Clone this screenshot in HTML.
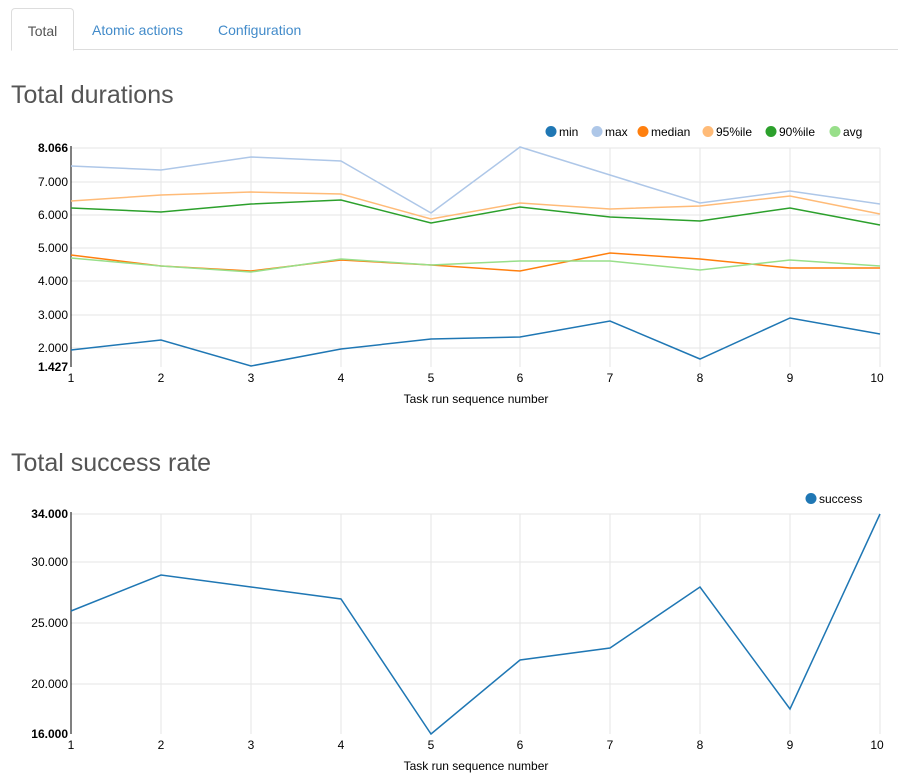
<!DOCTYPE html>
<html><head><style>
body{margin:0;background:#fff;font-family:"Liberation Sans",sans-serif;width:900px;height:780px;overflow:hidden;position:relative}
.tabs{position:absolute;left:11px;top:8px;right:2px;height:41px;border-bottom:1px solid #ddd}
.tab{position:absolute;top:0;height:41px;line-height:44px;font-size:14px;color:#428bca}
.tab.act{left:0;width:61px;border:1px solid #ddd;border-bottom:1px solid #fff;border-radius:4px 4px 0 0;color:#555;text-align:center;background:#fff}
h2{position:absolute;margin:0;font-weight:normal;font-size:25px;color:#555;left:11px}
svg{position:absolute;left:0;top:0}
svg text{font-family:"Liberation Sans",sans-serif;font-size:12px}
</style></head><body>
<div class="tabs">
<div class="tab act">Total</div>
<div class="tab" style="left:81px">Atomic actions</div>
<div class="tab" style="left:207px">Configuration</div>
</div>
<h2 style="top:81px">Total durations</h2>
<h2 style="top:449px">Total success rate</h2>
<svg width="900" height="780">
<g stroke="#e5e5e5" stroke-width="1">
<line x1="71" y1="148" x2="880" y2="148"/><line x1="71" y1="182" x2="880" y2="182"/><line x1="71" y1="215" x2="880" y2="215"/><line x1="71" y1="248" x2="880" y2="248"/><line x1="71" y1="281" x2="880" y2="281"/><line x1="71" y1="315" x2="880" y2="315"/><line x1="71" y1="348" x2="880" y2="348"/>
<line x1="161" y1="148" x2="161" y2="367"/><line x1="251" y1="148" x2="251" y2="367"/><line x1="341" y1="148" x2="341" y2="367"/><line x1="431" y1="148" x2="431" y2="367"/><line x1="520" y1="148" x2="520" y2="367"/><line x1="610" y1="148" x2="610" y2="367"/><line x1="700" y1="148" x2="700" y2="367"/><line x1="790" y1="148" x2="790" y2="367"/><line x1="880" y1="148" x2="880" y2="367"/>
<line x1="71" y1="514" x2="880" y2="514"/><line x1="71" y1="562" x2="880" y2="562"/><line x1="71" y1="623" x2="880" y2="623"/><line x1="71" y1="684" x2="880" y2="684"/>
<line x1="161" y1="514" x2="161" y2="734"/><line x1="251" y1="514" x2="251" y2="734"/><line x1="341" y1="514" x2="341" y2="734"/><line x1="431" y1="514" x2="431" y2="734"/><line x1="520" y1="514" x2="520" y2="734"/><line x1="610" y1="514" x2="610" y2="734"/><line x1="700" y1="514" x2="700" y2="734"/><line x1="790" y1="514" x2="790" y2="734"/><line x1="880" y1="514" x2="880" y2="734"/>
</g>
<line x1="71" y1="146" x2="71" y2="367" stroke="#000"/>
<line x1="71" y1="512" x2="71" y2="734" stroke="#000"/>
<g fill="none" stroke-width="1.5">
<polyline stroke="#aec7e8" points="71,166 161,170 251,157 341,161 431,213 520,147 610,175 700,203 790,191 880,204"/>
<polyline stroke="#ffbb78" points="71,201 161,195 251,192 341,194 431,219 520,203 610,209 700,206 790,196 880,214"/>
<polyline stroke="#2ca02c" points="71,208 161,212 251,204 341,200 431,223 520,207 610,217 700,221 790,208 880,225"/>
<polyline stroke="#ff7f0e" points="71,255 161,266 251,271 341,260 431,265 520,271 610,253 700,259 790,268 880,268"/>
<polyline stroke="#98df8a" points="71,258 161,266 251,272 341,259 431,265 520,261 610,261 700,270 790,260 880,266"/>
<polyline stroke="#1f77b4" points="71,350 161,340 251,366 341,349 431,339 520,337 610,321 700,359 790,318 880,334"/>
<polyline stroke="#1f77b4" points="71,611 161,575 251,587 341,599 431,734 520,660 610,648 700,587 790,709 880,514"/>
</g>
<g text-anchor="end" fill="#000">
<text x="68" y="152" font-weight="bold">8.066</text><text x="68" y="186">7.000</text><text x="68" y="219">6.000</text><text x="68" y="252">5.000</text><text x="68" y="285">4.000</text><text x="68" y="319">3.000</text><text x="68" y="352">2.000</text><text x="68" y="371" font-weight="bold">1.427</text>
<text x="68" y="518" font-weight="bold">34.000</text><text x="68" y="566">30.000</text><text x="68" y="627">25.000</text><text x="68" y="688">20.000</text><text x="68" y="738" font-weight="bold">16.000</text>
</g>
<g text-anchor="middle" fill="#000">
<text x="71" y="382">1</text><text x="161" y="382">2</text><text x="251" y="382">3</text><text x="341" y="382">4</text><text x="431" y="382">5</text><text x="520" y="382">6</text><text x="610" y="382">7</text><text x="700" y="382">8</text><text x="790" y="382">9</text><text x="877" y="382">10</text>
<text x="476" y="403">Task run sequence number</text>
<text x="71" y="749">1</text><text x="161" y="749">2</text><text x="251" y="749">3</text><text x="341" y="749">4</text><text x="431" y="749">5</text><text x="520" y="749">6</text><text x="610" y="749">7</text><text x="700" y="749">8</text><text x="790" y="749">9</text><text x="877" y="749">10</text>
<text x="476" y="770">Task run sequence number</text>
</g>
<g fill="#000">
<circle cx="551" cy="131.5" r="5.5" fill="#1f77b4"/><text x="559" y="136">min</text>
<circle cx="597" cy="131.5" r="5.5" fill="#aec7e8"/><text x="605" y="136">max</text>
<circle cx="643" cy="131.5" r="5.5" fill="#ff7f0e"/><text x="651" y="136">median</text>
<circle cx="708" cy="131.5" r="5.5" fill="#ffbb78"/><text x="716" y="136">95%ile</text>
<circle cx="771" cy="131.5" r="5.5" fill="#2ca02c"/><text x="779" y="136">90%ile</text>
<circle cx="835" cy="131.5" r="5.5" fill="#98df8a"/><text x="843" y="136">avg</text>
<circle cx="811" cy="498.5" r="5.5" fill="#1f77b4"/><text x="819" y="503">success</text>
</g>
</svg>
</body></html>
